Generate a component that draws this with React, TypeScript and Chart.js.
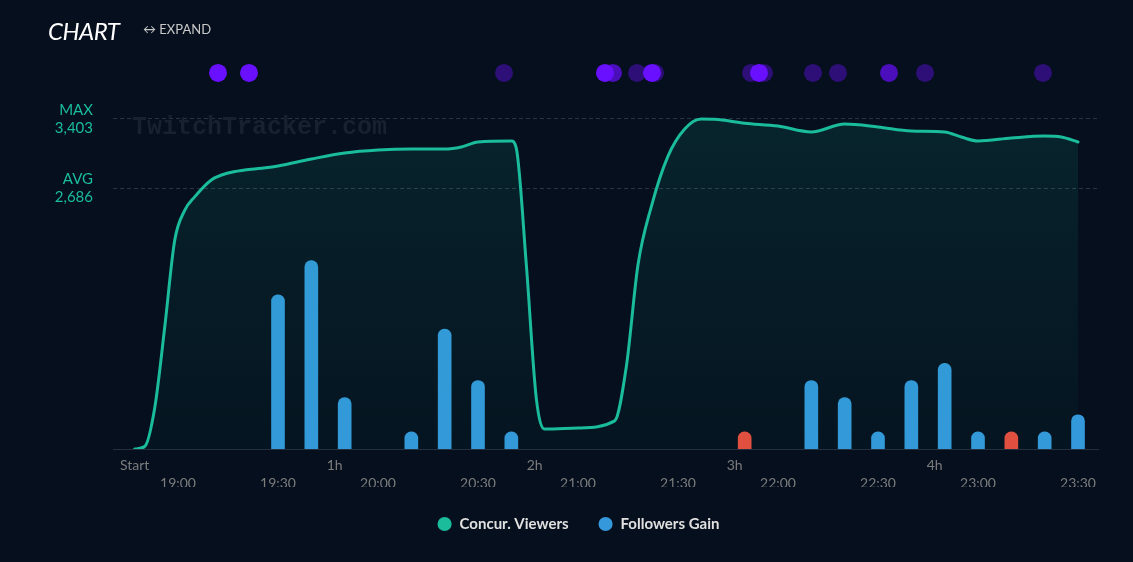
import React, { useEffect, useRef } from "react";
import { Chart, registerables } from "chart.js";

Chart.register(...registerables);

// ---- data (minutes relative to 19:00) ----
const viewerTimes = [
  -13, -10, -7, -4, -1, 2, 5, 10, 15, 20, 25, 30, 40, 50, 60, 70, 80, 85, 90, 100,
  101.5, 104.5, 107.5, 110, 120, 131, 134.5, 138, 142, 147, 152, 157, 161, 170, 180,
  190, 200, 210, 220, 230, 235, 240, 250, 260, 265, 270,
];
const viewerValues = [
  0, 25, 420, 1250, 2150, 2460, 2600, 2774, 2846, 2877, 2895, 2918, 2990, 3052, 3083,
  3094, 3094, 3115, 3166, 3176, 3100, 1900, 520, 206, 217, 290, 850, 1900, 2500, 3020,
  3300, 3403, 3400, 3360, 3330, 3269, 3351, 3321, 3279, 3269, 3217, 3176, 3207, 3228,
  3217, 3166,
];

const followerTimes = [30, 40, 50, 70, 80, 90, 100, 170, 190, 200, 210, 220, 230, 240, 250, 260, 270];
const followerValues = [9, 11, 3, 1, 7, 4, 1, -1, 4, 3, 1, 4, 5, 1, -1, 1, 2];

const markerTimes = [12, 21.3, 97.8, 128.1, 130.5, 137.7, 142.2, 143.1, 171.9, 174.3, 175.8, 190.5, 198, 213.3, 224.1, 259.5];
const markerAlphas = [1, 1, 0.4, 1, 0.7, 0.4, 1, 0.4, 0.4, 1, 0.4, 0.4, 0.4, 0.7, 0.4, 0.4];

const hourTicks = [-13, 47, 107, 167, 227];
const hourLabels = ["Start", "1h", "2h", "3h", "4h"];
const clockTicks = [0, 30, 60, 90, 120, 150, 180, 210, 240, 270];
const clockLabels = ["19:00", "19:30", "20:00", "20:30", "21:00", "21:30", "22:00", "22:30", "23:00", "23:30"];

const maxViewers = 3403;
const avgViewers = 2686;
const statTicks = [avgViewers, maxViewers];
const statLabels = [["AVG", "2,686"], ["MAX", "3,403"]];

// ---- styling / layout constants ----
const BG = "#050f1d";
const TEAL = "#1abc9c";
const BLUE = "#3498db";
const RED = "#e74c3c";
const X_MIN = -19.5;
const X_MAX = 276;
const Y_MAX = 4114.5;
const YF_MAX = 23.3;
const MARK_LEVEL = 0.9424;
const LEGEND_SHIFT = 3.25;

const watermarkPlugin = {
  id: "watermark",
  beforeDatasetsDraw(chart: any) {
    const ctx = chart.ctx;
    ctx.save();
    ctx.font = 'bold 25px "Liberation Mono", monospace';
    ctx.fillStyle = "#172130";
    ctx.textBaseline = "middle";
    ctx.textAlign = "left";
    ctx.fillText("TwitchTracker.com", 132, 128);
    ctx.restore();
  },
};

const legendTweakPlugin = {
  id: "legendTweak",
  beforeLayout(chart: any) {
    const lg = chart.legend;
    if (lg && !lg._patched) {
      const origFit = lg.fit.bind(lg);
      lg.fit = function () {
        origFit();
        this.height = 60;
      };
      const origDraw = lg.draw.bind(lg);
      lg.draw = function () {
        const ctx = this.ctx;
        ctx.save();
        ctx.translate(LEGEND_SHIFT, 0);
        origDraw();
        ctx.restore();
      };
      lg._patched = true;
    }
  },
};

export default function App() {
  const ref = useRef<HTMLCanvasElement | null>(null);

  useEffect(() => {
    if (!ref.current) return;

    const markerOrder = markerTimes
      .map((t, i) => ({ t, a: markerAlphas[i] }))
      .sort((p, q) => p.a - q.a);

    const tickFont = { family: "Lato", size: 14 };

    const chart = new Chart(ref.current, {
      type: "line",
      data: {
        datasets: [
          {
            type: "line",
            label: "Concur. Viewers",
            data: viewerTimes.map((t, i) => ({ x: t, y: viewerValues[i] })),
            xAxisID: "x",
            yAxisID: "y",
            borderColor: TEAL,
            borderWidth: 3,
            borderCapStyle: "round",
            borderJoinStyle: "round",
            pointRadius: 0,
            cubicInterpolationMode: "monotone",
            fill: "origin",
            backgroundColor: (c: any) => {
              const ca = c.chart.chartArea;
              if (!ca) return "rgba(26,188,156,0.08)";
              const g = c.chart.ctx.createLinearGradient(0, ca.top, 0, ca.bottom);
              g.addColorStop(0, "rgba(26,188,156,0.14)");
              g.addColorStop(1, "rgba(26,188,156,0.03)");
              return g;
            },
          } as any,
          {
            type: "bar",
            label: "Followers Gain",
            data: followerTimes.map((t, i) => ({ x: t, y: Math.abs(followerValues[i]) })),
            xAxisID: "x",
            yAxisID: "yF",
            backgroundColor: followerValues.map((v) => (v < 0 ? RED : BLUE)),
            barThickness: 13,
            borderRadius: { topLeft: 7, topRight: 7, bottomLeft: 0, bottomRight: 0 },
            borderSkipped: "start",
          } as any,
          {
            type: "scatter",
            label: "markers",
            data: markerOrder.map((m) => ({ x: m.t, y: MARK_LEVEL })),
            xAxisID: "x",
            yAxisID: "yM",
            pointRadius: 9,
            pointHoverRadius: 9,
            borderWidth: 0,
            backgroundColor: markerOrder.map((m) => `rgba(104,16,255,${m.a})`),
            showLine: false,
          } as any,
        ],
      },
      options: {
        animation: false,
        responsive: true,
        maintainAspectRatio: false,
        events: [],
        layout: { padding: { top: 50, right: 35, bottom: 15, left: 52 } },
        plugins: {
          tooltip: { enabled: false },
          legend: {
            position: "bottom",
            align: "center",
            labels: {
              usePointStyle: true,
              pointStyle: "circle",
              boxWidth: 15,
              boxHeight: 10,
              padding: 29.5,
              color: "#e0e0e0",
              font: { family: "Lato", size: 15, weight: "bold" },
              filter: (item: any) => item.text !== "markers",
              generateLabels: (chart: any) =>
                Chart.defaults.plugins.legend.labels.generateLabels(chart).map((l: any) => {
                  const col = l.datasetIndex === 0 ? TEAL : BLUE;
                  return { ...l, fillStyle: col, strokeStyle: col, lineWidth: 0, pointStyle: "circle" };
                }),
            },
          },
        },
        scales: {
          x: {
            type: "linear",
            position: "bottom",
            min: X_MIN,
            max: X_MAX,
            offset: false,
            grid: { display: false, drawTicks: false },
            border: { display: true, color: "#243040", width: 1 },
            afterBuildTicks: (axis: any) => {
              axis.ticks = hourTicks.map((v) => ({ value: v }));
            },
            afterFit: (axis: any) => {
              axis.height = 24;
            },
            ticks: {
              autoSkip: false,
              maxRotation: 0,
              padding: 8,
              color: "#7c7c7c",
              font: tickFont,
              callback: (v: any) => {
                const i = hourTicks.indexOf(Number(v));
                return i >= 0 ? hourLabels[i] : "";
              },
            },
          } as any,
          xTime: {
            type: "linear",
            position: "bottom",
            min: X_MIN,
            max: X_MAX,
            offset: false,
            grid: { display: false, drawTicks: false },
            border: { display: false },
            afterBuildTicks: (axis: any) => {
              axis.ticks = clockTicks.map((v) => ({ value: v }));
            },
            afterFit: (axis: any) => {
              axis.height = 14;
            },
            ticks: {
              autoSkip: false,
              maxRotation: 0,
              padding: 2.5,
              color: "#7c7c7c",
              font: tickFont,
              callback: (v: any) => {
                const i = clockTicks.indexOf(Number(v));
                return i >= 0 ? clockLabels[i] : "";
              },
            },
          } as any,
          y: {
            type: "linear",
            position: "left",
            min: 0,
            max: Y_MAX,
            grid: { display: true, drawTicks: false, color: "#2a3441", lineWidth: 1 },
            border: { display: false, dash: [4, 3] },
            afterBuildTicks: (axis: any) => {
              axis.ticks = statTicks.map((v) => ({ value: v }));
            },
            afterFit: (axis: any) => {
              axis.width = 61;
            },
            ticks: {
              autoSkip: false,
              padding: 20,
              color: TEAL,
              font: { family: "Lato", size: 15, lineHeight: 1.2 },
              callback: (v: any) => {
                const i = statTicks.indexOf(Number(v));
                return i >= 0 ? statLabels[i] : "";
              },
            },
          } as any,
          yF: {
            type: "linear",
            display: false,
            min: 0,
            max: YF_MAX,
          },
          yM: {
            type: "linear",
            display: false,
            min: 0,
            max: 1,
          },
        },
      } as any,
      plugins: [watermarkPlugin, legendTweakPlugin] as any,
    });

    return () => chart.destroy();
  }, []);

  return (
    <div
      style={{
        position: "fixed",
        left: 0,
        top: 0,
        width: 1133,
        height: 562,
        background: BG,
        overflow: "hidden",
      }}
    >
      <canvas ref={ref} style={{ position: "absolute", left: 0, top: 0, width: 1133, height: 562 }} />
      <div
        style={{
          position: "absolute",
          left: 48,
          top: 19,
          fontFamily: "Lato, sans-serif",
          fontStyle: "italic",
          fontSize: 24,
          lineHeight: "24px",
          color: "#ffffff",
          letterSpacing: "-0.5px",
        }}
      >
        CHART
      </div>
      <div
        style={{
          position: "absolute",
          left: 143,
          top: 23,
          fontFamily: "Lato, sans-serif",
          fontSize: 13,
          lineHeight: "13px",
          color: "#c8c8c8",
          whiteSpace: "nowrap",
        }}
      >
        ↔ EXPAND
      </div>
    </div>
  );
}
